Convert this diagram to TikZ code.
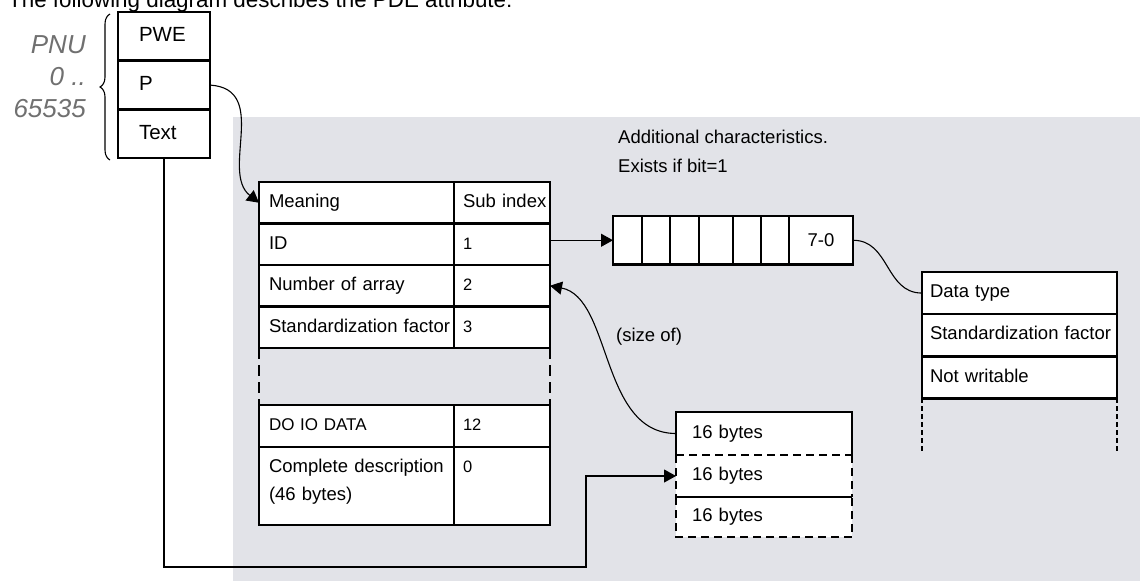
\documentclass[tikz,border=0pt]{standalone}
\usepackage{fontspec}
\setmainfont{Liberation Sans}
\usepackage{tikz}
\usetikzlibrary{arrows.meta,positioning,calc,decorations.pathreplacing}

\definecolor{panelgray}{RGB}{226,227,232}
\definecolor{pnugray}{RGB}{112,112,112}

\begin{document}
\begin{tikzpicture}[
  x=1pt, y=-1pt,
  >={Triangle[length=12pt,width=13pt]},
  box/.style={draw, line width=2.6pt, fill=white, inner ysep=0pt, outer sep=0pt,
    align=left, font=\fontsize{18.5}{28}\selectfont, text height=13.5pt, text depth=4pt},
  wide/.style={box, text width=175pt, inner xsep=10pt, minimum height=41.5pt},
  narrow/.style={box, text width=78pt, inner xsep=9pt, minimum height=41.5pt,
    font=\fontsize{16.5}{28}\selectfont},
  pbox/.style={box, text width=50pt, inner xsep=21pt, minimum height=48.7pt,
    font=\fontsize{20.5}{24}\selectfont, text height=15pt, text depth=4.5pt},
  rbox/.style={box, text width=179pt, inner xsep=8pt, minimum height=42.1pt},
  bytebox/.style={fill=white, inner ysep=0pt, outer sep=0pt, inner xsep=16pt,
    text width=144pt, align=left, font=\fontsize{18.5}{28}\selectfont,
    text height=13.5pt, text depth=4pt},
  frame/.style={line width=2.6pt},
  link/.style={line width=1.1pt},
]
\useasboundingbox (0,0) rectangle (1140,581);
\fill[white] (0,0) rectangle (1140,581);

% Grey panel
\fill[panelgray] (233,117) rectangle (1140,581);

% Heading (cut by the top edge)
\node[anchor=base west, inner sep=0pt, font=\fontsize{22.4}{26}\selectfont] (title) at (8,7)
  {The following diagram describes the PDE attribute:};

% PNU block
\node[pbox, anchor=north west] (pwe) at (118,12) {PWE};
\node[pbox, below=0pt of pwe] (p) {P};
\node[pbox, below=0pt of p] (txt) {Text};
\draw[decorate, decoration={brace, amplitude=10pt}, line width=1.1pt] (110,160) -- (110,14);
\node[anchor=north east, align=right, inner sep=0pt, text=pnugray,
  font=\fontsize{26}{32}\selectfont\itshape] (pnu) at (86,35) {PNU\\0 ..\\65535};

% Description table
\node[wide, anchor=north west] (mean) at (259,182) {Meaning};
\node[narrow, right=0pt of mean, font=\fontsize{18.5}{28}\selectfont] (meansub) {\mbox{Sub index}};
\node[wide, below=0pt of mean] (id) {ID};
\node[narrow, right=0pt of id] (idsub) {1};
\node[wide, below=0pt of id] (num) {Number of array};
\node[narrow, right=0pt of num] (numsub) {2};
\node[wide, below=0pt of num] (std) {\mbox{Standardization factor}};
\node[narrow, right=0pt of std] (stdsub) {3};
\node[wide, below=57pt of std, minimum height=42pt, font=\fontsize{17}{28}\selectfont] (doio) {DO IO DATA};
\node[narrow, right=0pt of doio, minimum height=42pt] (doiosub) {12};
\node[wide, below=0pt of doio, minimum height=78pt, text depth=40pt] (compl) {Complete description\\(46 bytes)};
\node[narrow, right=0pt of compl, minimum height=78pt, text depth=40pt] (complsub) {0};
\draw[frame, dash pattern=on 11pt off 6pt] (std.south west) -- (doio.north west);
\draw[frame, dash pattern=on 11pt off 6pt] (stdsub.south east) -- (doiosub.north east);

% Additional characteristics
\node[anchor=base west, inner sep=0pt, align=left, font=\fontsize{18.5}{28.5}\selectfont] (extra) at (618,172)
  {Additional characteristics.\\Exists if bit=1};
\node[draw, frame, fill=white, outer sep=0pt, inner sep=0pt, minimum width=240pt,
  minimum height=48.5pt, anchor=north west] (bits) at (613,216) {};
\foreach \dx in {29,57,86,120,148,176} {
  \draw[frame] ($(bits.north west)+(\dx,0)$) -- ($(bits.south west)+(\dx,0)$);
}
\node[inner sep=0pt, font=\fontsize{18.5}{22}\selectfont] (lsb) at ($(bits.east)+(-32,0)$) {7-0};

% Data type table
\node[rbox, anchor=north west] (dtype) at (922,272) {Data type};
\node[rbox, below=0pt of dtype] (rstd) {\mbox{Standardization factor}};
\node[rbox, below=0pt of rstd] (nowr) {Not writable};
\draw[frame, dash pattern=on 5pt off 3pt] (nowr.south west) -- ++(0,53);
\draw[frame, dash pattern=on 5pt off 3pt] (nowr.south east) -- ++(0,53);

% Text blocks
\node[bytebox, anchor=north west, minimum height=43pt] (b1) at (676,412) {16 bytes};
\node[bytebox, below=0pt of b1, minimum height=42pt] (b2) {16 bytes};
\node[bytebox, below=0pt of b2, minimum height=40pt] (b3) {16 bytes};
\draw[frame] (b1.south west) -- (b1.north west) -- (b1.north east) -- (b1.south east);
\draw[frame, dash pattern=on 8pt off 5pt] (b1.south west) -- (b1.south east);
\draw[frame, dash pattern=on 8pt off 5pt] (b2.north west) -- (b2.south west);
\draw[frame, dash pattern=on 8pt off 5pt] (b2.north east) -- (b2.south east);
\draw[frame] (b2.south west) -- (b2.south east);
\draw[frame, dash pattern=on 8pt off 5pt] (b3.north west) -- (b3.south west) -- (b3.south east) -- (b3.north east);

% Connectors
\draw[link, ->] (p.east) .. controls ($(p.east)+(60,4)$) and ($(mean.west)+(-39,-31)$) .. (mean.west);
\draw[link, ->] (idsub.east |- bits.west) -- (bits.west);
\draw[link] (bits.east) .. controls ($(bits.east)+(37,0)$) and ($(dtype.west)+(-37,0)$) .. (dtype.west);
\draw[link, ->] (b1.west) .. controls ($(b1.west)+(-76,0)$) and ($(numsub.east)+(62,12)$) .. (numsub.east);
\node[anchor=base west, inner sep=0pt, font=\fontsize{18.5}{22}\selectfont] (sizeof) at (616,341) {(size of)};
\coordinate (bend) at (586,567);
\draw[link, ->] (txt.south) |- (bend) |- (b2.west);
\end{tikzpicture}
\end{document}
